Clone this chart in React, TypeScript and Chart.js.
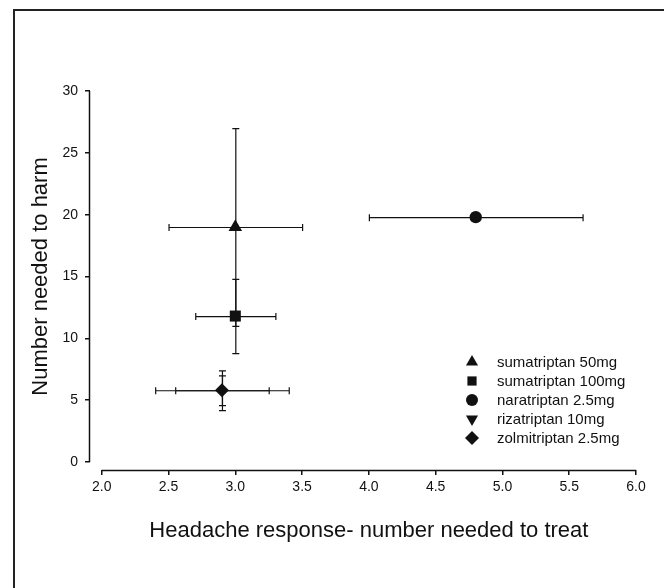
import React, { useEffect, useRef } from 'react';
import { Chart, registerables } from 'chart.js';

Chart.register(...registerables);

// ---- data ----
const drugs = ['sumatriptan 50mg', 'sumatriptan 100mg', 'naratriptan 2.5mg', 'rizatriptan 10mg', 'zolmitriptan 2.5mg'];
const nnt = [3.0, 3.0, 4.8, 2.9, 2.9];
const nntLow = [2.5, 2.7, 4.0, 2.55, 2.4];
const nntHigh = [3.5, 3.3, 5.6, 3.25, 3.4];
const nnh = [19.0, 11.8, 19.8, 5.8, 5.8];
const nnhLow = [11.0, 8.8, 19.8, 4.6, 4.2];
const nnhHigh = [27.0, 14.8, 19.8, 7.0, 7.4];
const xTicks = [2.0, 2.5, 3.0, 3.5, 4.0, 4.5, 5.0, 5.5, 6.0];
const yTicks = [0, 5, 10, 15, 20, 25, 30];
const xTitle = 'Headache response- number needed to treat';
const yTitle = 'Number needed to harm';

// ---- styles ----
const markerStyles = ['triangle', 'rect', 'circle', 'triangle', 'rectRot'];
const markerRotations = [0, 0, 0, 180, 0];
const markerRadii = [7.8, 7.8, 6.2, 4.5, 7];
const legendRadii = [7, 6.5, 6, 7, 7];
const FONT = "'Liberation Sans', Arial, Helvetica, sans-serif";
const INK = '#111';

function drawMarker(ctx: CanvasRenderingContext2D, style: string, x: number, y: number, r: number, rot: number) {
  ctx.save();
  ctx.fillStyle = INK;
  ctx.beginPath();
  if (style === 'circle') {
    ctx.arc(x, y, r, 0, Math.PI * 2);
  } else if (style === 'rect') {
    const s = r * Math.SQRT1_2;
    ctx.rect(x - s, y - s, 2 * s, 2 * s);
  } else if (style === 'rectRot') {
    ctx.moveTo(x - r, y);
    ctx.lineTo(x, y - r);
    ctx.lineTo(x + r, y);
    ctx.lineTo(x, y + r);
    ctx.closePath();
  } else if (style === 'triangle') {
    let a = (rot * Math.PI) / 180;
    ctx.moveTo(x + Math.sin(a) * r, y - Math.cos(a) * r);
    a += (2 * Math.PI) / 3;
    ctx.lineTo(x + Math.sin(a) * r, y - Math.cos(a) * r);
    a += (2 * Math.PI) / 3;
    ctx.lineTo(x + Math.sin(a) * r, y - Math.cos(a) * r);
    ctx.closePath();
  }
  ctx.fill();
  ctx.restore();
}

const errorBarPlugin = {
  id: 'errorBars',
  beforeDatasetsDraw(chart: any) {
    const { ctx } = chart;
    const xs = chart.scales.x;
    const ys = chart.scales.y;
    const cap = 3;
    ctx.save();
    ctx.strokeStyle = INK;
    ctx.lineWidth = 1.2;
    for (let i = 0; i < drugs.length; i++) {
      const px = xs.getPixelForValue(nnt[i]);
      const py = ys.getPixelForValue(nnh[i]);
      if (nntHigh[i] > nntLow[i]) {
        const x1 = xs.getPixelForValue(nntLow[i]);
        const x2 = xs.getPixelForValue(nntHigh[i]);
        ctx.beginPath();
        ctx.moveTo(x1, py + 0.5);
        ctx.lineTo(x2, py + 0.5);
        ctx.moveTo(x1 + 0.5, py - cap);
        ctx.lineTo(x1 + 0.5, py + cap + 1);
        ctx.moveTo(x2 + 0.5, py - cap);
        ctx.lineTo(x2 + 0.5, py + cap + 1);
        ctx.stroke();
      }
      if (nnhHigh[i] > nnhLow[i]) {
        const y1 = ys.getPixelForValue(nnhLow[i]);
        const y2 = ys.getPixelForValue(nnhHigh[i]);
        ctx.beginPath();
        ctx.moveTo(px + 0.5, y1);
        ctx.lineTo(px + 0.5, y2);
        ctx.moveTo(px - cap, y1 + 0.5);
        ctx.lineTo(px + cap + 1, y1 + 0.5);
        ctx.moveTo(px - cap, y2 + 0.5);
        ctx.lineTo(px + cap + 1, y2 + 0.5);
        ctx.stroke();
      }
    }
    ctx.restore();
  },
};

const decorPlugin = {
  id: 'decor',
  afterDraw(chart: any) {
    const { ctx } = chart;
    const xs = chart.scales.x;
    const ys = chart.scales.y;
    const area = chart.chartArea;
    ctx.save();
    // frame (top and left edges)
    ctx.strokeStyle = '#222';
    ctx.lineWidth = 2;
    ctx.beginPath();
    ctx.moveTo(14, 588);
    ctx.lineTo(14, 10);
    ctx.lineTo(664, 10);
    ctx.stroke();

    // detached axis lines
    ctx.strokeStyle = INK;
    ctx.lineWidth = 1.5;
    ctx.beginPath();
    const ax = Math.round(area.left) - 0.5;
    ctx.moveTo(ax, ys.getPixelForValue(yTicks[yTicks.length - 1]));
    ctx.lineTo(ax, ys.getPixelForValue(yTicks[0]));
    const ay = Math.round(area.bottom) + 0.5;
    ctx.moveTo(xs.getPixelForValue(xTicks[0]), ay);
    ctx.lineTo(xs.getPixelForValue(xTicks[xTicks.length - 1]), ay);
    ctx.stroke();

    // axis titles
    ctx.fillStyle = INK;
    ctx.font = `22px ${FONT}`;
    ctx.textAlign = 'center';
    ctx.textBaseline = 'alphabetic';
    const xc = (xs.getPixelForValue(xTicks[0]) + xs.getPixelForValue(xTicks[xTicks.length - 1])) / 2;
    ctx.fillText(xTitle, xc, 537);
    const yc = (ys.getPixelForValue(yTicks[0]) + ys.getPixelForValue(yTicks[yTicks.length - 1])) / 2;
    ctx.save();
    ctx.translate(47, yc);
    ctx.rotate(-Math.PI / 2);
    ctx.fillText(yTitle, 0, 0);
    ctx.restore();

    // legend
    ctx.font = `15px ${FONT}`;
    ctx.textAlign = 'left';
    ctx.textBaseline = 'middle';
    for (let i = 0; i < drugs.length; i++) {
      const ly = 362 + i * 19;
      drawMarker(ctx, markerStyles[i], 472, ly, legendRadii[i], markerRotations[i]);
      ctx.fillStyle = INK;
      ctx.fillText(drugs[i], 497, ly + 1);
    }
    ctx.restore();
  },
};

export default function App() {
  const canvasRef = useRef<HTMLCanvasElement | null>(null);

  useEffect(() => {
    if (!canvasRef.current) return;
    const datasets = drugs.map((name, i) => ({
      label: name,
      data: [{ x: nnt[i], y: nnh[i] }],
      pointStyle: markerStyles[i] as any,
      pointRotation: markerRotations[i],
      pointRadius: markerRadii[i],
      pointHoverRadius: markerRadii[i],
      backgroundColor: INK,
      borderColor: INK,
      borderWidth: 0,
      showLine: false,
    }));
    const tickFont = { family: FONT, size: 14 };
    const chart = new Chart(canvasRef.current, {
      type: 'scatter',
      data: { datasets },
      plugins: [errorBarPlugin, decorPlugin],
      options: {
        responsive: false,
        animation: false,
        devicePixelRatio: 1,
        layout: { padding: { top: 91, right: 28, bottom: 0, left: 0 } },
        plugins: { legend: { display: false }, tooltip: { enabled: false }, title: { display: false } },
        scales: {
          x: {
            type: 'linear',
            min: 1.912,
            max: 6.0,
            afterBuildTicks: (s: any) => {
              s.ticks = xTicks.map((v) => ({ value: v }));
            },
            afterFit: (s: any) => {
              s.height = 118;
            },
            ticks: {
              font: tickFont,
              color: INK,
              padding: 4,
              maxRotation: 0,
              autoSkip: false,
              callback: (v: any) => Number(v).toFixed(1),
            },
            grid: { display: true, drawOnChartArea: false, drawTicks: true, tickLength: 5, color: INK, lineWidth: 1.5 },
            border: { display: false },
          },
          y: {
            type: 'linear',
            min: -0.65,
            max: 30,
            afterBuildTicks: (s: any) => {
              s.ticks = yTicks.map((v) => ({ value: v }));
            },
            afterFit: (s: any) => {
              s.width = 90;
            },
            ticks: {
              font: tickFont,
              color: INK,
              padding: 7,
              autoSkip: false,
              callback: (v: any) => String(v),
            },
            grid: { display: true, drawOnChartArea: false, drawTicks: true, tickLength: 5, color: INK, lineWidth: 1.5 },
            border: { display: false },
          },
        },
      },
    });
    return () => chart.destroy();
  }, []);

  return (
    <div style={{ position: 'absolute', left: 0, top: 0, width: 664, height: 588, background: '#fff' }}>
      <canvas ref={canvasRef} width={664} height={588} style={{ display: 'block' }} />
    </div>
  );
}
